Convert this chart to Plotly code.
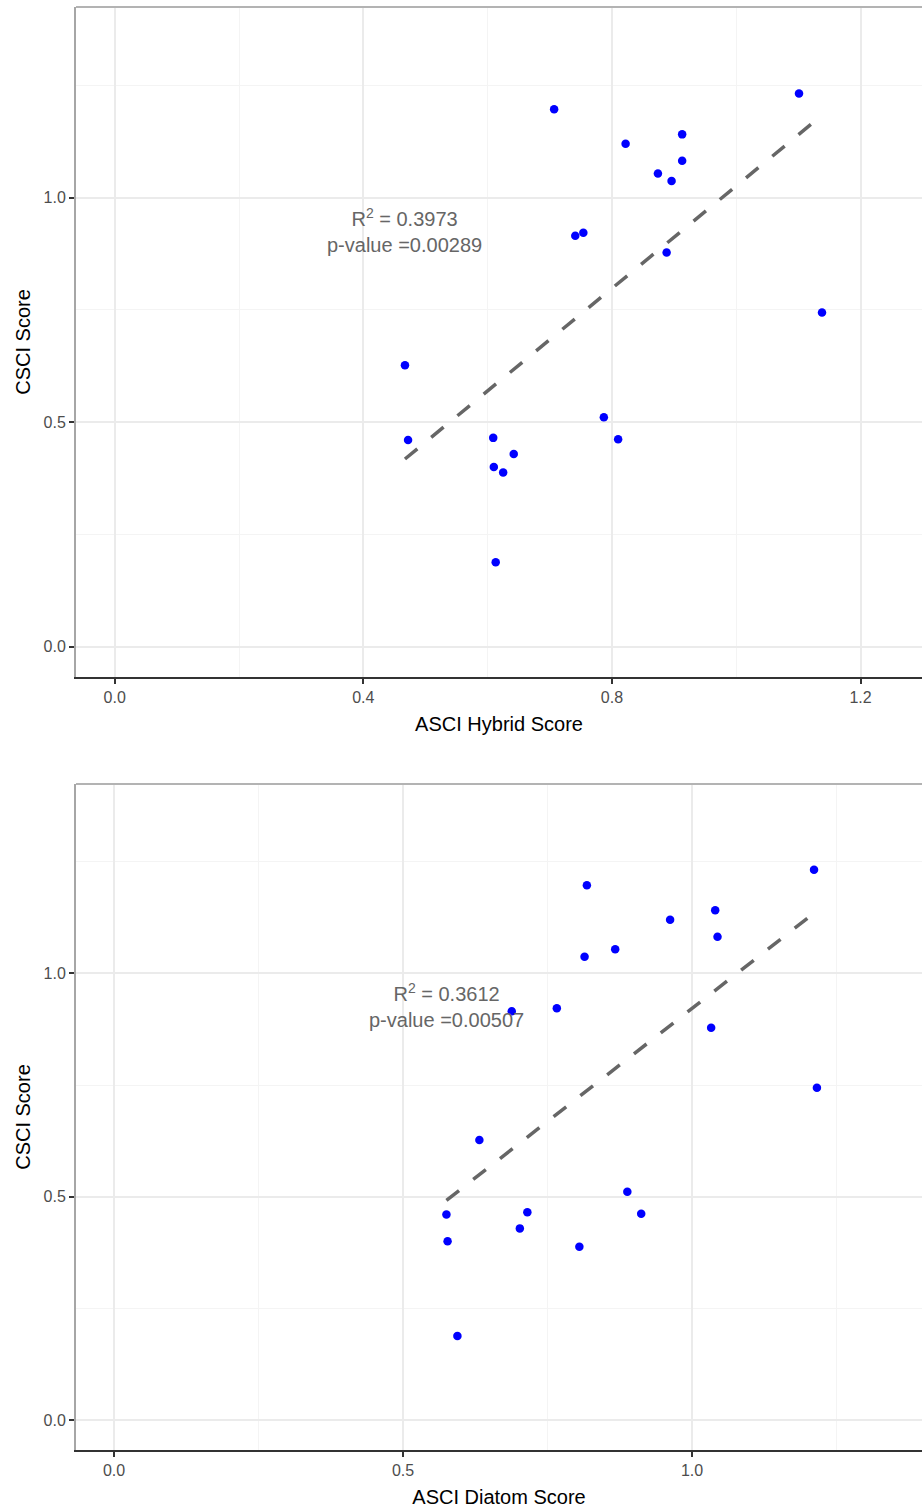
import numpy as np
import plotly.graph_objects as go

# ---- data ----
csci = [1.232, 1.197, 1.141, 1.120, 1.082, 1.054, 1.037, 0.922, 0.915, 0.878,
        0.744, 0.627, 0.511, 0.465, 0.462, 0.460, 0.429, 0.400, 0.388, 0.188]
asci_hybrid = [1.101, 0.707, 0.913, 0.822, 0.913, 0.874, 0.896, 0.754, 0.741, 0.888,
               1.138, 0.467, 0.787, 0.609, 0.810, 0.472, 0.642, 0.610, 0.625, 0.613]
asci_diatom = [1.211, 0.818, 1.040, 0.962, 1.044, 0.867, 0.814, 0.766, 0.688, 1.033,
               1.216, 0.632, 0.888, 0.715, 0.912, 0.575, 0.702, 0.577, 0.805, 0.594]

hybrid_label = "R<sup>2</sup> = 0.3973<br>p-value =0.00289"
diatom_label = "R<sup>2</sup> = 0.3612<br>p-value =0.00507"

x_titles = ["ASCI Hybrid Score", "ASCI Diatom Score"]
y_title = "CSCI Score"

FONT = "Liberation Sans, Arial, sans-serif"
TICK_SIZE, TITLE_SIZE, ANN_SIZE = 16, 20, 20

fig = go.Figure()

def add_panel(xs, label, xa, ya):
    xs = np.array(xs); ys = np.array(csci)
    fig.add_trace(go.Scatter(x=xs, y=ys, mode="markers", xaxis=xa, yaxis=ya,
                             marker=dict(color="#0000FF", size=8.5), showlegend=False,
                             hoverinfo="skip"))
    b, a = np.polyfit(xs, ys, 1)
    lx = np.array([xs.min(), xs.max()])
    fig.add_trace(go.Scatter(x=lx, y=a + b * lx, mode="lines", xaxis=xa, yaxis=ya,
                             line=dict(color="#666666", width=3.5, dash="16px,18px"),
                             showlegend=False, hoverinfo="skip"))
    fig.add_annotation(x=xs.min(), y=0.927, xref=xa, yref=ya, text=label,
                       showarrow=False, xanchor="center", yanchor="middle",
                       font=dict(family=FONT, size=ANN_SIZE, color="#666666"))

add_panel(asci_hybrid, hybrid_label, "x", "y")
add_panel(asci_diatom, diatom_label, "x2", "y2")

title_font = dict(family=FONT, size=TITLE_SIZE, color="#000000")
common_axis = dict(showgrid=True, gridcolor="#EBEBEB", gridwidth=1.5, zeroline=False,
                   ticks="outside", ticklen=5, tickcolor="#333333", tickwidth=1.5,
                   tickfont=dict(family=FONT, size=TICK_SIZE, color="#4D4D4D"),
                   minor=dict(showgrid=True, gridcolor="#F4F4F4", gridwidth=1),
                   tickformat=".1f", showline=True)

fig.update_layout(
    width=922, height=1510,
    margin=dict(l=76, r=0, t=7, b=60),
    plot_bgcolor="white", paper_bgcolor="white",
    xaxis=dict(domain=[0, 1], anchor="y", range=[-0.0623, 1.2989], tick0=0, dtick=0.4,
               minor_dtick=0.2, linecolor="#333333", linewidth=1.5,
               title=dict(text=x_titles[0], font=title_font, standoff=12), **common_axis),
    yaxis=dict(domain=[0.5357, 1], anchor="x", range=[-0.0676, 1.4247], tick0=0, dtick=0.5,
               minor_dtick=0.25, linecolor="#A6A6A6", linewidth=2,
               title=dict(text=y_title, font=title_font, standoff=8), **common_axis),
    xaxis2=dict(domain=[0, 1], anchor="y2", range=[-0.0659, 1.3978], tick0=0, dtick=0.5,
                minor_dtick=0.25, linecolor="#333333", linewidth=1.5,
                title=dict(text=x_titles[1], font=title_font, standoff=12), **common_axis),
    yaxis2=dict(domain=[0, 0.4615], anchor="x2", range=[-0.0672, 1.4238], tick0=0, dtick=0.5,
                minor_dtick=0.25, linecolor="#A6A6A6", linewidth=2,
                title=dict(text=y_title, font=title_font, standoff=8), **common_axis),
)

# top borders of the panels
for xr, yd in [("x domain", "y domain"), ("x2 domain", "y2 domain")]:
    fig.add_shape(type="line", xref=xr, yref=yd, x0=0, x1=1, y0=1, y1=1,
                  line=dict(color="#B3B3B3", width=2), layer="above")

fig.write_html("out.html", config={"displayModeBar": False},
               post_script="document.body.style.margin='0';document.body.style.overflow='hidden';")
